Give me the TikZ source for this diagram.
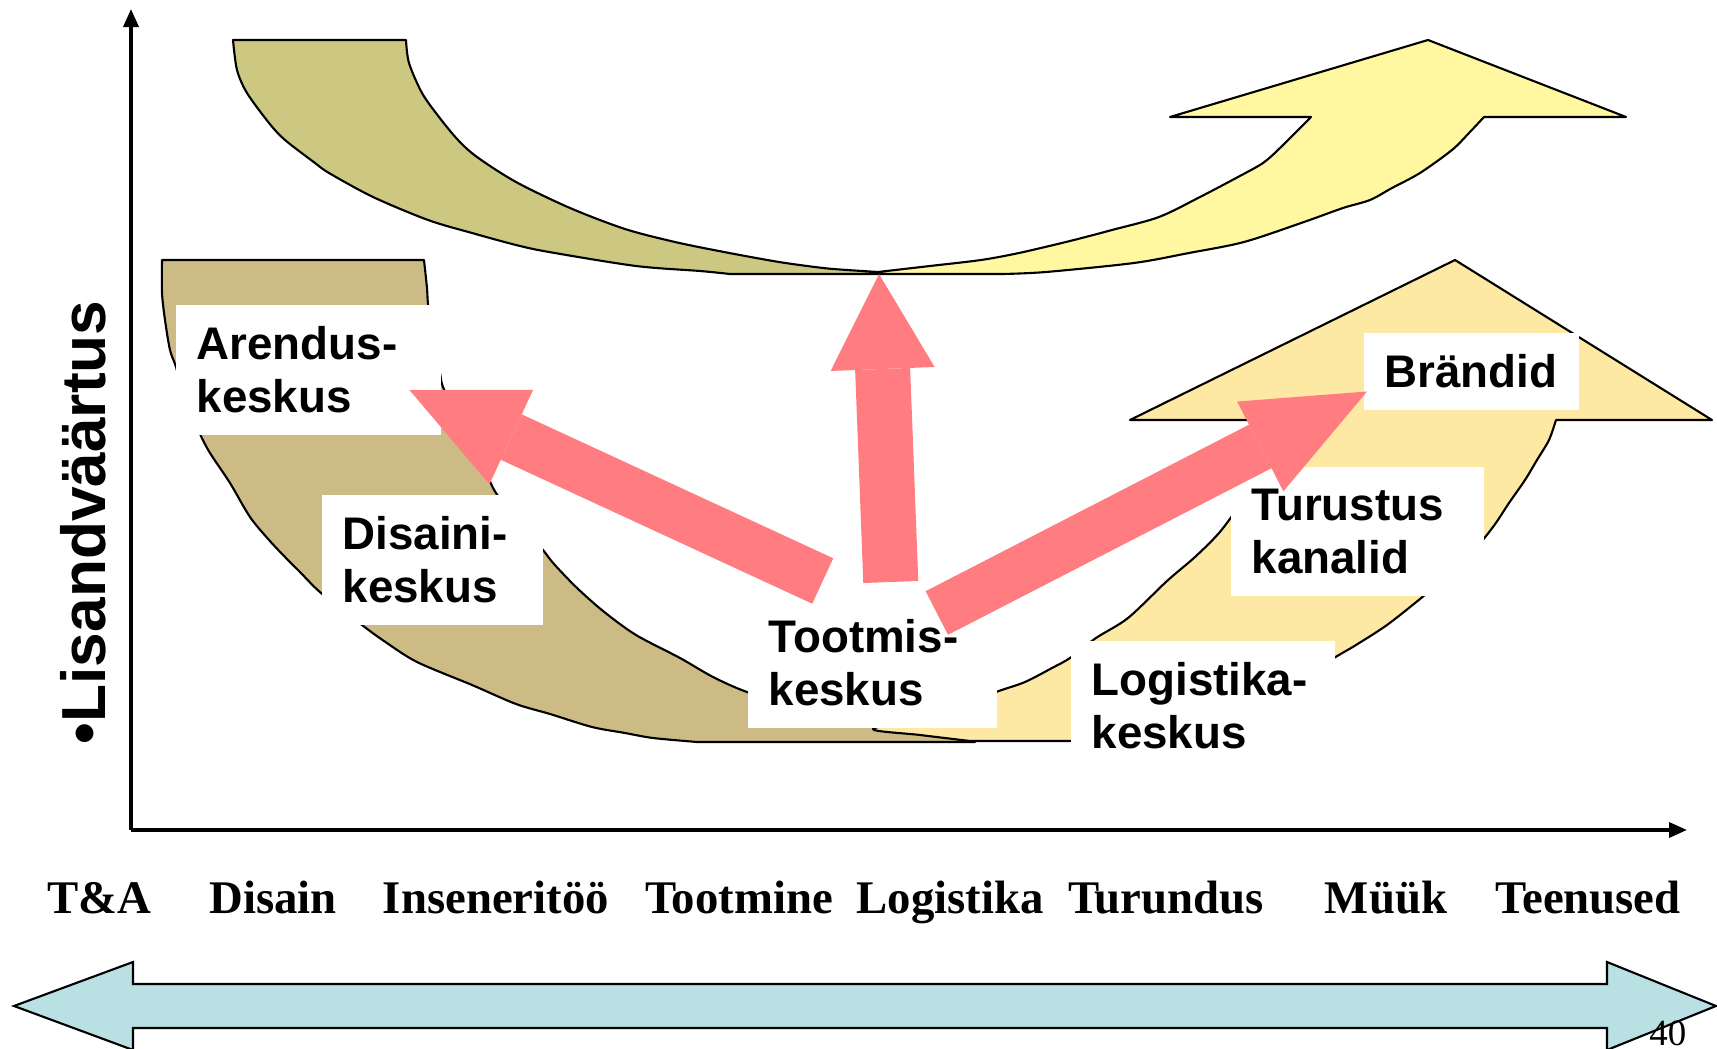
\documentclass[tikz,border=0pt]{standalone}
\usepackage{fontspec}
\setmainfont{Liberation Serif}
\newfontfamily\lblfont{Liberation Sans}
\usetikzlibrary{arrows.meta}

\definecolor{olivefill}{RGB}{204,200,130}
\definecolor{yellowtop}{RGB}{255,248,161}
\definecolor{tanfill}{RGB}{205,187,133}
\definecolor{yellowlow}{RGB}{253,233,163}
\definecolor{pinkred}{RGB}{255,124,128}
\definecolor{bandfill}{RGB}{185,224,226}

\begin{document}
\begin{tikzpicture}[x=0.01cm,y=-0.01cm,
	blob/.style={draw=black,line width=0.6pt,line join=round},
	axis/.style={line width=1pt,-{Triangle[length=0.18cm,width=0.15cm]}},
	box/.style={fill=white,anchor=north west,align=left,inner xsep=0.21cm,inner ysep=0.22cm,font=\lblfont\bfseries\fontsize{13pt}{15.1pt}\selectfont},
	stage/.style={anchor=base,inner sep=0pt,font=\bfseries\fontsize{13.3pt}{15pt}\selectfont},
	flow/.style={draw=pinkred,line width=0.52cm,-{Triangle[length=1.12cm,width=1.04cm,line width=0pt]}}]
	\useasboundingbox (0,0) rectangle (1717,1049);

	\filldraw[blob,fill=olivefill] plot[smooth,tension=0.5] coordinates {(233,40) (237,70) (247,93) (269,123) (285,140) (315,163) (329,173) (373,197) (428,220) (472,233) (516,245) (549,252) (636,266) (700,271) (730,274)} -- (878,274) -- plot[smooth,tension=0.5] coordinates {(878,272) (847,270) (823,268) (779,262) (724,252) (675,242) (625,229) (570,208) (516,182) (477,157) (458,140) (439,117) (422,93) (409,63) (406,40)} -- cycle;
	\filldraw[blob,fill=yellowtop] plot[smooth,tension=0.5] coordinates {(878,272) (930,266) (981,260) (1019,253) (1070,241) (1112,230) (1159,217) (1200,197) (1238,177) (1263,163) (1280,148) (1311,117)} -- (1170,117) -- (1428,40) -- (1626,117) -- plot[smooth,tension=0.5] coordinates {(1484,117) (1469,133) (1452,150) (1420,173) (1392,188) (1370,200) (1343,208) (1304,222) (1244,242) (1189,253) (1134,263) (1046,272) (1003,274)} -- (878,274) -- cycle;

	\filldraw[blob,fill=tanfill] plot[smooth,tension=0.5] coordinates {(162,260) (162,293) (165,320) (170,350) (176,367) (185,400) (200,434) (210,453) (230,483) (250,517) (269,540) (285,557) (299,571) (321,593) (362,625) (384,641) (417,662) (472,685) (516,704) (550,714) (592,727) (625,733) (653,738) (697,742)} -- (975,742) -- plot[smooth,tension=0.5] coordinates {(975,742) (860,722) (800,708) (747,692) (713,677) (680,658) (636,635) (603,611) (576,587) (554,564) (543,550) (520,522) (496,493) (485,470) (470,440) (455,410) (443,387) (440,373) (432,330) (428,304) (427,288) (424,260)} -- cycle;
	\filldraw[blob,fill=yellowlow] (1300,420) -- (1130,420) -- (1455,260) -- (1712,420) -- plot[smooth,tension=0.5] coordinates {(1556,420) (1549,440) (1537,460) (1525,480) (1509,503) (1493,527) (1470,555) (1445,578) (1420,599) (1387,625) (1356,645) (1334,658) (1290,686) (1200,722) (1100,738) (1068,741)} -- (970,741) -- plot[smooth,tension=0.5] coordinates {(970,741) (920,735) (873,729) (930,716) (996,692) (1025,682) (1052,668) (1070,658) (1096,638) (1128,618) (1167,581) (1195,557) (1219,533) (1240,505) (1265,470) (1300,420)} -- cycle;

	\coordinate (origin) at (131,830);
	\coordinate (ytop) at (131,9);
	\coordinate (xend) at (1687,830);
	\draw[axis] (origin) -- (ytop);
	\draw[axis] (origin) -- (xend);

	\node[box,text width=2.23cm] (arendusk) at (175,304) {Arendus-\\keskus};
	\node[box,text width=1.79cm] (disainik) at (321,494) {Disaini-\\keskus};
	\node[box,text width=2.07cm] (tootmisk) at (747,597) {Tootmis-\\keskus};
	\node[box,text width=2.11cm] (turustusk) at (1230,466) {Turustus\\kanalid};
	\node[box,text width=2.22cm] (logistikak) at (1070,640) {Logistika-\\keskus};
	\node[box,text width=1.73cm] (brandid) at (1363,332) {Brändid};

	\coordinate (srcL) at ([xshift=-0.495cm,yshift=0.16cm]tootmisk.north);
	\coordinate (srcM) at ([xshift=0.185cm,yshift=0.15cm]tootmisk.north);
	\coordinate (srcR) at ([xshift=0.645cm,yshift=-0.16cm]tootmisk.north);
	\coordinate (dip) at (879,274);
	\draw[flow,line width=0.5cm] (srcL) -- ([xshift=-0.32cm,yshift=-0.2cm]arendusk.east);
	\draw[flow,line width=0.55cm,-{Triangle[length=0.95cm,width=1.04cm,line width=0pt]}] (srcM) -- (dip);
	\draw[flow,line width=0.49cm,-{Triangle[length=1.2cm,width=1.01cm,line width=0pt]}] (srcR) -- ([xshift=0.04cm,yshift=-0.2cm]brandid.west);

	\node[rotate=90,anchor=base west,inner sep=0pt,font=\lblfont\bfseries\fontsize{17.7pt}{20pt}\selectfont] (valuelbl) at (106,745) {•Lisandväärtus};

	\node[stage] (ta) at (99,913) {T\&A};
	\node[stage] (disain) at (273,913) {Disain};
	\node[stage] (insener) at (496,913) {Inseneritöö};
	\node[stage] (tootmine) at (739,913) {Tootmine};
	\node[stage] (logistika) at (950,913) {Logistika};
	\node[stage] (turundus) at (1166,913) {Turundus};
	\node[stage] (muuk) at (1386,913) {Müük};
	\node[stage] (teenused) at (1588,913) {Teenused};

	\filldraw[blob,fill=bandfill,line join=miter] (14,1006) -- (133,962) -- (133,984) -- (1607,984) -- (1607,962) -- (1716,1006) -- (1607,1050) -- (1607,1028) -- (133,1028) -- (133,1050) -- cycle;
	\node[anchor=base east,inner sep=0pt,font=\fontsize{10.5pt}{12pt}\selectfont] (pagenr) at (1687,1045) {40};
\end{tikzpicture}
\end{document}
